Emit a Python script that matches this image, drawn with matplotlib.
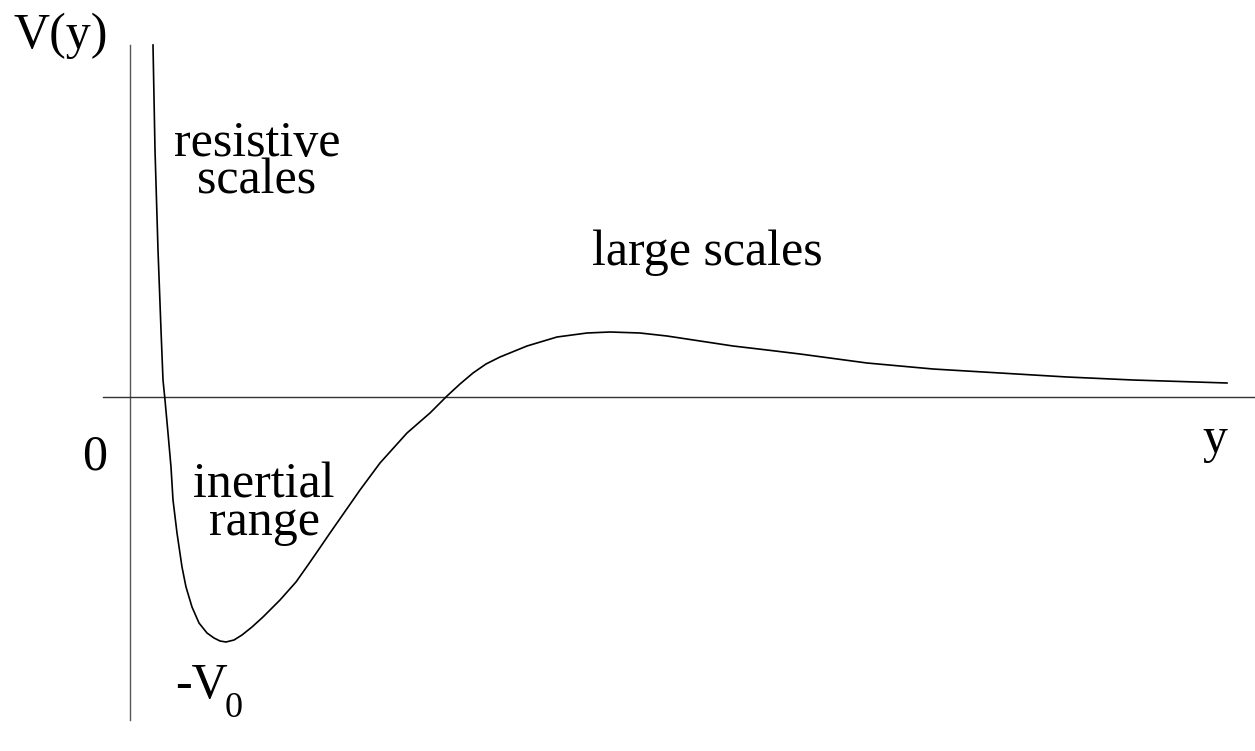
import matplotlib
matplotlib.use("Agg")
from matplotlib import pyplot as plt

plt.rcParams['font.family'] = ['Liberation Serif', 'DejaVu Serif']

# potential curve V(y) (arbitrary units)
y_vals = [0.23, 0.25, 0.28, 0.31, 0.33, 0.35, 0.38, 0.41, 0.43, 0.47, 0.52, 0.56,
          0.62, 0.69, 0.77, 0.84, 0.90, 0.96, 1.04, 1.12, 1.22, 1.33, 1.50, 1.66,
          1.78, 1.87, 2.00, 2.30, 2.50, 2.77, 3.00, 3.17, 3.30, 3.43, 3.56, 3.70, 3.97,
          4.27, 4.57, 4.80, 5.10, 5.37, 5.70, 6.03, 6.37, 6.70, 7.37, 8.03, 8.70,
          9.37, 10.03, 10.97]
v_vals = [3.52, 2.47, 1.47, 0.67, 0.17, -0.03, -0.36, -0.70, -1.03, -1.36, -1.70, -1.90,
          -2.10, -2.26, -2.36, -2.41, -2.44, -2.45, -2.43, -2.38, -2.30, -2.20, -2.03, -1.85,
          -1.68, -1.55, -1.36, -0.93, -0.66, -0.36, -0.16, 0.01, 0.13, 0.24, 0.33, 0.40, 0.51,
          0.60, 0.64, 0.65, 0.64, 0.61, 0.56, 0.51, 0.47, 0.43, 0.34, 0.28, 0.24,
          0.20, 0.17, 0.14]

fig = plt.figure(figsize=(12.55, 7.51), dpi=100)
ax = fig.add_axes([0, 0, 1, 1])
ax.set_xlim(-1.30, 11.25)
ax.set_ylim(-3.54, 3.97)
ax.axis('off')

# hand drawn axes
ax.plot([0, 0], [-3.23, 3.52], color='#555555', lw=1.0)
ax.plot([-0.27, 11.25], [0, 0], color='#333333', lw=1.0)

# the curve
ax.plot(y_vals, v_vals, color='black', lw=1.2, solid_joinstyle='round')

fs = 36
ax.text(-1.17, 3.49, 'V(y)', fontsize=fs, ha='left', va='baseline')
ax.text(1.27, 2.04, 'resistive\nscales', fontsize=fs, ha='center', va='baseline',
        multialignment='center', linespacing=0.74)
ax.text(5.77, 1.32, 'large scales', fontsize=fs, ha='center', va='baseline')
ax.text(-0.35, -0.73, '0', fontsize=fs, ha='center', va='baseline')
ax.text(10.85, -0.55, 'y', fontsize=fs, ha='center', va='baseline')
ax.text(1.34, -1.38, 'inertial\nrange', fontsize=fs, ha='center', va='baseline',
        multialignment='center', linespacing=0.74)
ax.text(0.45, -3.01, '-V', fontsize=fs, ha='left', va='baseline')
ax.text(0.95, -3.20, '0', fontsize=26, ha='left', va='baseline')

fig.savefig('out.png', dpi=100)
